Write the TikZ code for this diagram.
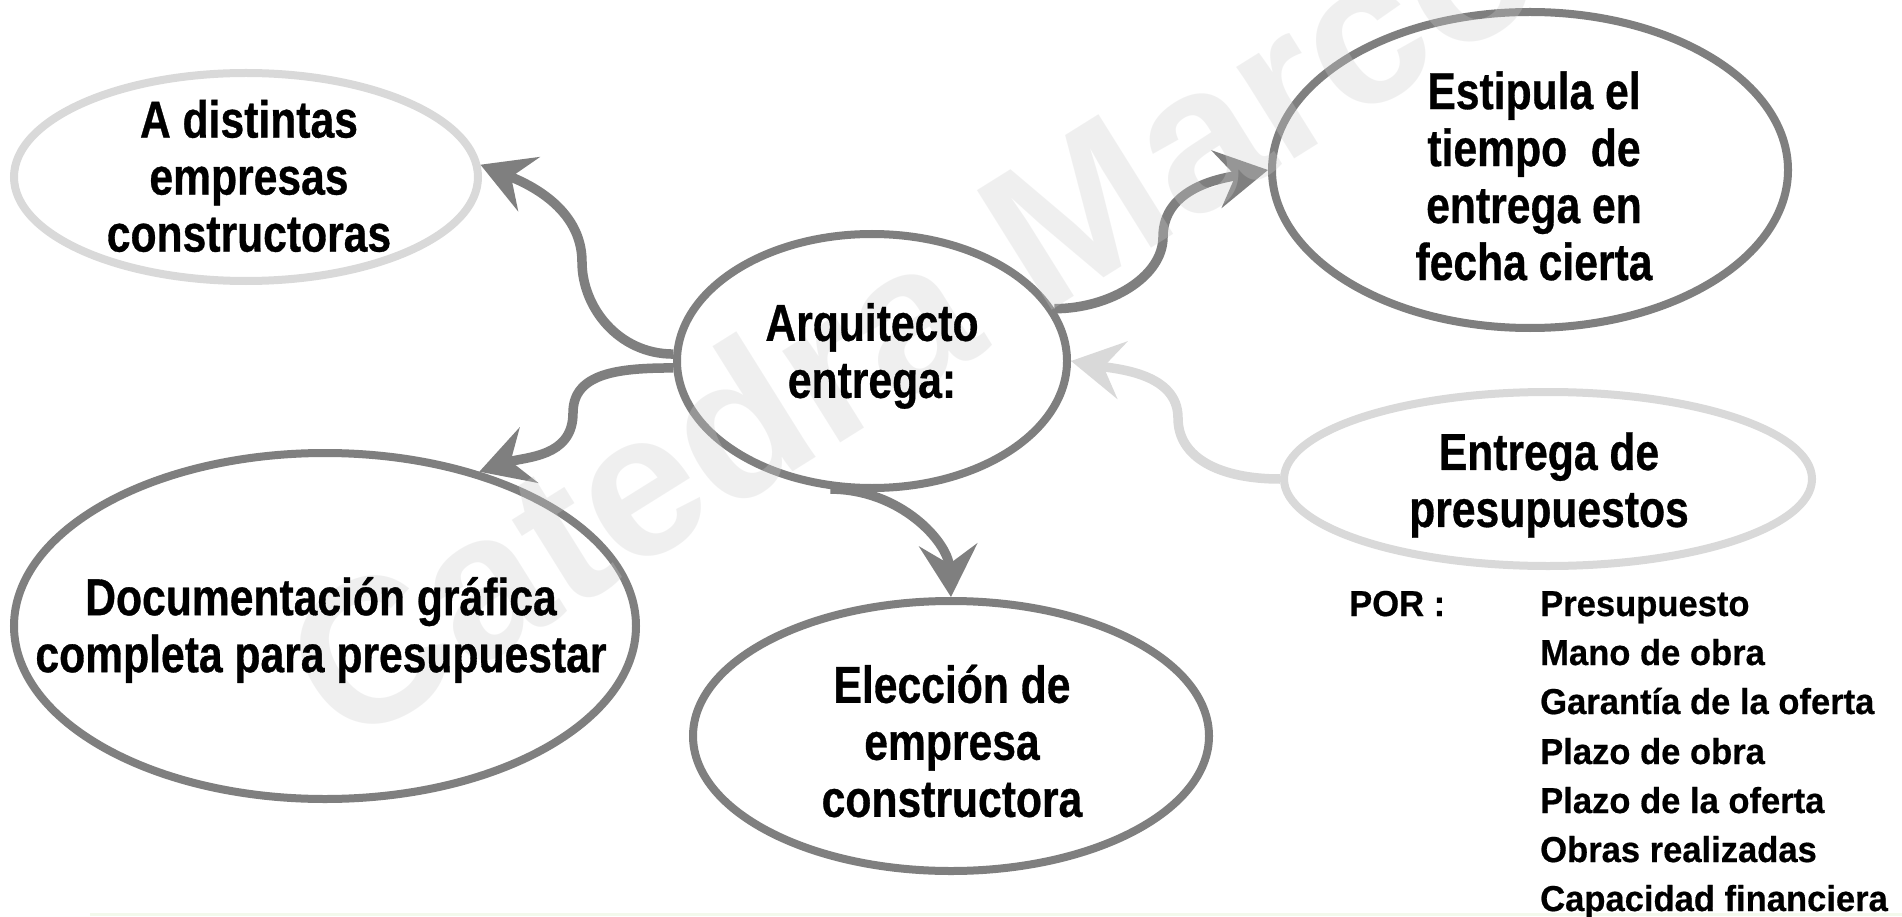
\documentclass[tikz,border=0pt]{standalone}
\usepackage{fontspec}
\setmainfont{Liberation Sans}
\newfontfamily\cond{Liberation Sans}[FakeStretch=0.82,FakeBold=0.6]
\newfontfamily\listf{Liberation Sans}[FakeStretch=0.96,FakeBold=0.5]
\usetikzlibrary{shapes.geometric,arrows.meta}
\definecolor{dk}{RGB}{127,127,127}
\definecolor{lt}{RGB}{217,217,217}
\definecolor{wmc}{RGB}{205,205,205}
\definecolor{foot}{RGB}{243,249,236}
\begin{document}
\begin{tikzpicture}[x=1pt,y=-1pt,
  bub/.style={ellipse,draw,line width=8pt,inner sep=0pt},
  dkb/.style={bub,draw=dk},
  ltb/.style={bub,draw=lt},
  tx/.style={align=center,inner sep=0pt,font=\cond\bfseries\fontsize{52}{57}\selectfont},
  ls/.style={anchor=base west,inner sep=0pt,font=\listf\bfseries\fontsize{36}{36}\selectfont},
  arr/.style={draw=dk,line width=9.5pt,-{Stealth[length=52pt,width=58pt,inset=19pt]}},
  larr/.style={arr,draw=lt},
  wmark/.style={anchor=base west,rotate=32,inner sep=0pt,text=wmc,text opacity=0.3,
    font=\bfseries\fontsize{205}{205}\selectfont}]
\fill[white] (0,0) rectangle (1902,917);
\useasboundingbox (0,0) rectangle (1902,917);

% ellipses
\node[ltb,minimum width=464pt,minimum height=208pt] (A) at (246,177) {};
\node[dkb,minimum width=516pt,minimum height=316pt] (est) at (1530,170) {};
\node[dkb,minimum width=390pt,minimum height=254pt] (arq) at (872,361) {};
\node[dkb,minimum width=622pt,minimum height=346pt] (doc) at (325,626) {};
\node[dkb,minimum width=516pt,minimum height=270pt] (ele) at (951,736) {};
\node[ltb,minimum width=528pt,minimum height=174pt] (ent) at (1548,479) {};

% bend points of the connectors
\coordinate (m1) at (582,262);
\coordinate (m2) at (573,413);
\coordinate (m3) at (1163,237);
\coordinate (m4) at (1178,418);

% connectors
\draw[arr] (arq.178) .. controls +(-55,0) and +(0,45) .. (m1)
  .. controls +(0,-55) and +(45,18) .. (A.3);
\draw[arr] (arq.182) .. controls +(-55,0) and +(0,-40) .. (m2)
  .. controls +(0,45) and +(45,-15) .. (doc.45.5);
\draw[arr] (arq.16) .. controls +(55,0) and +(0,40) .. (m3)
  .. controls +(0,-50) and +(-45,8) .. (est.180);
\draw[larr] (ent.180) .. controls +(-60,0) and +(0,40) .. (m4)
  .. controls +(0,-45) and +(45,8) .. (arq.0);
\draw[arr] (arq.-108) .. controls +(70,0) and +(-3,-55) .. (ele.90);

% watermark
\node[wmark] (wm) at (345,752) {Catedra Marco};

% footer trace
\draw[draw=foot,line width=3pt] (90,914) -- (1902,914);

% texts
\node[tx] (tA) at (249,176) {A distintas\\empresas\\constructoras};
\node[tx] (tEst) at (1534,176) {Estipula el\\tiempo\ \ de\\entrega en\\fecha cierta};
\node[tx] (tArq) at (872,356) {Arquitecto\\entrega:};
\node[tx] (tDoc) at (321,630) {Documentación gráfica\\completa para presupuestar};
\node[tx] (tEle) at (952,741) {Elección de\\empresa\\constructora};
\node[tx] (tEnt) at (1549,485) {Entrega de\\presupuestos};

\node[ls] (por) at (1349,616) {POR :};
\node[ls] (l1) at (1540,616) {Presupuesto};
\node[ls] (l2) at (1540,665) {Mano de obra};
\node[ls] (l3) at (1540,714) {Garantía de la oferta};
\node[ls] (l4) at (1540,764) {Plazo de obra};
\node[ls] (l5) at (1540,813) {Plazo de la oferta};
\node[ls] (l6) at (1540,862) {Obras realizadas};
\node[ls] (l7) at (1540,911) {Capacidad financiera};
\end{tikzpicture}
\end{document}
